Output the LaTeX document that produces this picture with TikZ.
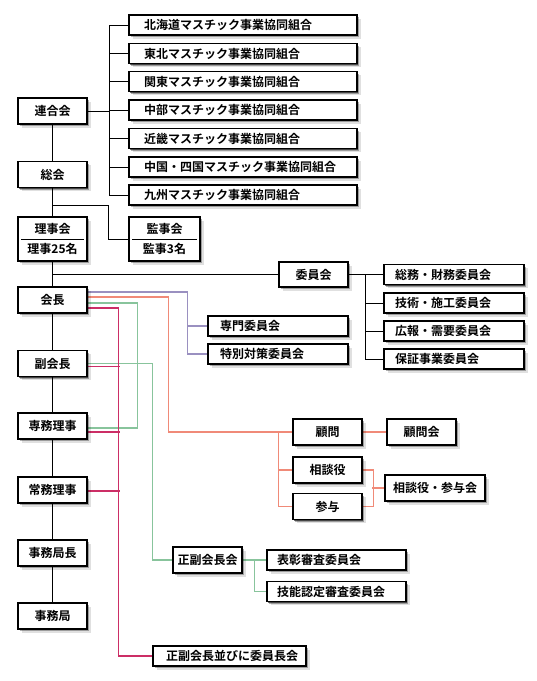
\documentclass[tikz,border=0pt]{standalone}
\usepackage{fontspec}
\setmainfont{Noto Sans CJK JP}[BoldFont={Noto Sans CJK JP Bold}]
\usetikzlibrary{shadows,backgrounds}
\definecolor{cblue}{HTML}{9A90C0}
\definecolor{csal}{HTML}{F08A78}
\definecolor{cgreen}{HTML}{88C49C}
\definecolor{cmag}{HTML}{CC2E66}
\begin{document}
\begin{tikzpicture}[x=1pt,y=-1pt,
  every node/.style={font=\bfseries\fontsize{12}{14}\selectfont},
  shd/.style={drop shadow={shadow xshift=1.2pt,shadow yshift=-1.2pt,opacity=0.55,fill=black},
              drop shadow={shadow xshift=2.4pt,shadow yshift=-2.4pt,opacity=0.3,fill=black},
              drop shadow={shadow xshift=3.8pt,shadow yshift=-3.8pt,opacity=0.12,fill=black}},
  base/.style={draw=black, line width=1.1pt, fill=white, text=black, inner sep=0pt, shd},
  cbox/.style={base, minimum width=69pt, minimum height=26pt, align=center},
  lbox/.style n args={2}{base, minimum height=20pt, align=left, inner xsep=#1, text width=#2},
  two/.style={font=\bfseries\fontsize{12}{20}\selectfont, minimum height=44pt},
  conn/.style={draw=black, line width=0.9pt},
  bl/.style={draw=cblue, line width=1.2pt},
  sal/.style={draw=csal, line width=1.2pt},
  gr/.style={draw=cgreen, line width=1.2pt},
  mg/.style={draw=cmag, line width=1.3pt}]
\useasboundingbox (0,0) rectangle (537,681);
% left column
\node[cbox] (rengo) at (52.5,111) {連合会};
\node[cbox] (soukai) at (52.5,174.5) {総会};
\node[cbox,two] (riji) at (52.5,239) {理事会\\理事25名};
\draw[line width=0.8pt] ([xshift=4pt]riji.west) -- ([xshift=-4pt]riji.east);
\node[cbox] (kaicho) at (52.5,300) {会長};
\node[cbox] (fuku) at (52.5,363.5) {副会長};
\node[cbox] (senmu) at (52.5,426) {専務理事};
\node[cbox] (joumu) at (52.5,490) {常務理事};
\node[cbox] (kyokucho) at (52.5,553) {事務局長};
\node[cbox] (jimu) at (52.5,616) {事務局};
% kumiai
\node[lbox={15pt}{198pt}] (k1) at (243,25) {北海道マスチック事業協同組合};
\node[lbox={15pt}{198pt}] (k2) at (243,53.5) {東北マスチック事業協同組合};
\node[lbox={15pt}{198pt}] (k3) at (243,81.5) {関東マスチック事業協同組合};
\node[lbox={15pt}{198pt}] (k4) at (243,110) {中部マスチック事業協同組合};
\node[lbox={15pt}{198pt}] (k5) at (243,138.5) {近畿マスチック事業協同組合};
\node[lbox={15pt}{198pt}] (k6) at (243,167) {中国・四国マスチック事業協同組合};
\node[lbox={15pt}{198pt}] (k7) at (243,195) {九州マスチック事業協同組合};
% kansa
\node[cbox,two,minimum width=71pt] (kansa) at (164.5,239) {監事会\\監事3名};
\draw[line width=0.8pt] ([xshift=4pt]kansa.west) -- ([xshift=-4pt]kansa.east);
% iinkai
\node[cbox,minimum height=25pt] (iinkai) at (313.5,274.5) {委員会};
\node[lbox={11pt}{118pt}] (s1) at (454,274.5) {総務・財務委員会};
\node[lbox={11pt}{118pt}] (s2) at (454,303) {技術・施工委員会};
\node[lbox={11pt}{118pt}] (s3) at (454,331) {広報・需要委員会};
\node[lbox={11pt}{118pt}] (s4) at (454,359) {保証事業委員会};
% senmon
\node[lbox={12pt}{116pt}] (senmon) at (278,326) {専門委員会};
\node[lbox={12pt}{116pt}] (toku) at (278,354) {特別対策委員会};
% komon
\node[cbox] (komon) at (327.5,432) {顧問};
\node[cbox] (sodan) at (327.5,470) {相談役};
\node[cbox] (sanyo) at (327.5,506.5) {参与};
\node[cbox] (komonkai) at (421.5,432) {顧問会};
\node[cbox,minimum width=100pt] (sskai) at (435,488) {相談役・参与会};
% seifuku
\node[cbox] (seifuku) at (207.5,560) {正副会長会};
\node[lbox={10pt}{119pt}] (hyosho) at (336.5,560) {表彰審査委員会};
\node[lbox={10pt}{119pt}] (gino) at (336.5,591.5) {技能認定審査委員会};
\node[lbox={13pt}{127pt}] (narabi) at (229.5,656) {正副会長並びに委員長会};
\begin{scope}[on background layer]
% trunk
\draw[conn] (rengo) -- (soukai) -- (riji) -- (kaicho) -- (fuku) -- (senmu) -- (joumu) -- (kyokucho) -- (jimu);
% kumiai bus
\coordinate (kb) at (109,0);
\draw[conn] (k1.west) -- (k1.west -| kb) -- (k7.west -| kb) -- (k7.west);
\foreach \k in {k2,k3,k4,k5,k6} \draw[conn] (\k.west) -- (\k.west -| kb);
\draw[conn] (rengo.east) -- (rengo.east -| kb);
% soukai -> kansa
\coordinate (j1) at (52.5,205);
\draw[conn] (j1) -- ++(55.5,0) |- (kansa.west);
% iinkai
\coordinate (j2) at (52.5,274.5);
\draw[conn] (j2) -- (iinkai.west);
\draw[conn] (iinkai.east) -- (s1.west);
\draw[conn] ([xshift=-18pt]s1.west) |- (s4.west);
\draw[conn] ([xshift=-18pt]s2.west) -- (s2.west);
\draw[conn] ([xshift=-18pt]s3.west) -- (s3.west);
% blue
\draw[bl] ([yshift=8pt]kaicho.east) -| ([xshift=-20pt]toku.west) -- (toku.west);
\draw[bl] ([xshift=-20pt]senmon.west) -- (senmon.west);
% salmon
\draw[sal] ([yshift=3pt]kaicho.east) -| ([xshift=-124pt]komon.west) -- (komon.west);
\draw[sal] ([xshift=-14pt]komon.west) |- (sanyo.west);
\draw[sal] ([xshift=-14pt]sodan.west) -- (sodan.west);
\draw[sal] (komon.east) -- (komonkai.west);
\draw[sal] (sodan.east) -- ++(11,0) |- (sanyo.east);
\draw[sal] (sskai.west) -- ++(-12,0);
% green
\draw[gr] ([yshift=-3pt]kaicho.east) -- ++(50,0) |- ([yshift=-2pt]senmu.east);
\draw[gr] (fuku.east) -| ([xshift=-20pt]seifuku.west) -- (seifuku.west);
\draw[gr] (seifuku.east) -- (hyosho.west);
\draw[gr] ([xshift=-12pt]hyosho.west) |- (gino.west);
% magenta
\draw[mg] ([yshift=-8pt]kaicho.east) -| ([xshift=-34pt]narabi.west) -- (narabi.west);
\draw[mg] ([yshift=-3pt]fuku.east) -- ++(32,0);
\draw[mg] ([yshift=-6pt]senmu.east) -- ++(32,0);
\draw[mg] ([yshift=-1pt]joumu.east) -- ++(32,0);
\end{scope}
\end{tikzpicture}
\end{document}
